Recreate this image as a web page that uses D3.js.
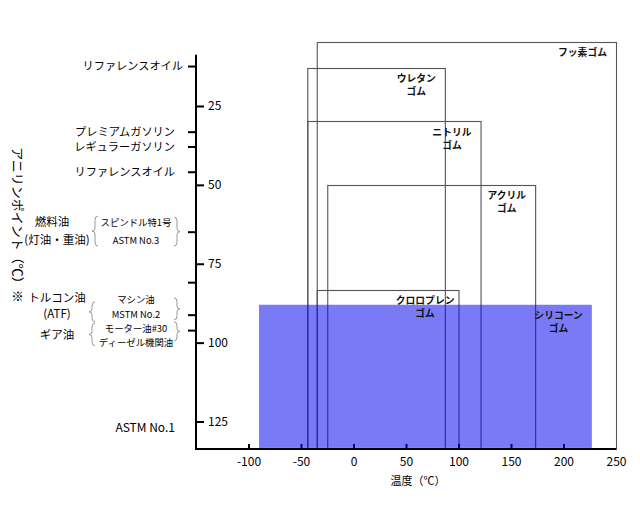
<!DOCTYPE html>
<html><head><meta charset="utf-8">
<script src="https://cdn.jsdelivr.net/npm/d3@7"></script>
<style>
html,body{margin:0;padding:0;background:#fff;}
svg{display:block;font-family:"Noto Sans CJK JP","Noto Sans",sans-serif;}
</style></head>
<body>
<svg id="c" width="640" height="526"></svg>
<script>
// ---- data ----
const rubberLine1 = ["フッ素ゴム","ウレタン","ニトリル","アクリル","クロロプレン","シリコーン"];
const rubberLine2 = ["","ゴム","ゴム","ゴム","ゴム","ゴム"];
const rubberTempMin = [-35,-44,-44,-25,-35,-90];
const rubberTempMax = [250,87,121,173,100,227];
const rubberAnilineMin = [4.6,12.9,29.8,50,83.3,88];
const highlighted = [false,false,false,false,false,true];

const xTickValues = [-100,-50,0,50,100,150,200,250];
const yTickValues = [25,50,75,100,125];

const oilNames = ["リファレンスオイル","プレミアムガソリン","レギュラーガソリン","リファレンスオイル","ASTM No.1"];
const oilAniline = [12.5,33.3,38,46,127];
const oilTicks = [12.5,33.3,38,46,65,81,91.3,96.2];

const groupNames = ["燃料油","(灯油・重油)","トルコン油","(ATF)","ギア油"];
const groupAniline = [61.8,67.5,85.8,90.9,97.6];
const subNames = ["スピンドル特1号","ASTM No.3","マシン油","MSTM No.2","モーター油#30","ディーゼル機関油"];
const subAniline = [62,67.7,86.3,91.0,95.6,99.9];
// braces: [from, to] in aniline units (left side, right side)
const braceLeft = [[59.9,69.4],[87.1,93.4],[93.8,101]];
const braceRight = [[60.2,69.4],[85.8,92.8],[93.4,99.5]];

const xDomain = [-150,250];
const yAxisExtent = [8.8,133.7];

// ---- scales ----
const svg = d3.select("#c");
const x = d3.scaleLinear().domain(xDomain).range([196,616]);
const y = d3.scaleLinear().domain([0,125]).range([27.1,421.5]);
const axisBottomY = y(yAxisExtent[1]);

// rubber outlines
const idx = d3.range(rubberLine1.length);
svg.append("g").selectAll("rect").data(idx.filter(i=>!highlighted[i])).join("rect")
  .attr("x", i=>x(rubberTempMin[i])+0.5)
  .attr("y", i=>Math.round(y(rubberAnilineMin[i]))+0.5)
  .attr("width", i=>x(rubberTempMax[i])-x(rubberTempMin[i]))
  .attr("height", i=>axisBottomY-Math.round(y(rubberAnilineMin[i])))
  .attr("fill","none").attr("stroke","#555").attr("stroke-width",1.1);

// axes
const yAxis = d3.axisRight(y).tickValues(yTickValues).tickSize(8).tickPadding(4);
const gy = svg.append("g").attr("transform","translate(196,0)").call(yAxis);
gy.select(".domain").remove();
gy.selectAll(".tick line").attr("stroke","#000").attr("stroke-width",2);
gy.selectAll(".tick text").attr("font-size",12).attr("fill","#000").attr("font-family","'Noto Sans CJK JP',sans-serif");

const xAxis = d3.axisBottom(x).tickValues(xTickValues).tickSize(-5).tickPadding(9).tickFormat(d3.format("d"));
const gx = svg.append("g").attr("transform",`translate(0,${axisBottomY})`).call(xAxis);
gx.select(".domain").remove();
gx.selectAll(".tick line").attr("stroke","#000").attr("stroke-width",2).filter(d=>d===250).remove();
gx.selectAll(".tick text").attr("font-size",12).attr("fill","#000").attr("font-family","'Noto Sans CJK JP',sans-serif")
  .text(d=>d<0? "-"+Math.abs(d) : d);

// left side ticks
svg.append("g").selectAll("line").data(oilTicks).join("line")
  .attr("x1",188).attr("x2",196).attr("y1",d=>y(d)).attr("y2",d=>y(d))
  .attr("stroke","#000").attr("stroke-width",2);

// highlighted rubber (semi transparent fill over outlines and ticks)
svg.append("g").selectAll("rect").data(idx.filter(i=>highlighted[i])).join("rect")
  .attr("x", i=>x(rubberTempMin[i]))
  .attr("y", i=>y(rubberAnilineMin[i]))
  .attr("width", i=>x(rubberTempMax[i])-x(rubberTempMin[i]))
  .attr("height", i=>axisBottomY-1-y(rubberAnilineMin[i]))
  .attr("fill","#0000f0").attr("fill-opacity",0.52);

// axis lines
svg.append("line").attr("x1",196).attr("x2",196).attr("y1",y(yAxisExtent[0])).attr("y2",axisBottomY+1)
  .attr("stroke","#000").attr("stroke-width",2);
svg.append("line").attr("x1",195).attr("x2",x(xDomain[1])).attr("y1",axisBottomY).attr("y2",axisBottomY)
  .attr("stroke","#000").attr("stroke-width",2);

// rubber labels (two separate text lines, block right-aligned inside each box)
const lbl = svg.append("g").attr("font-size",9.8).attr("font-weight","bold").attr("fill","#111");
idx.forEach(i=>{
  const top = y(rubberAnilineMin[i]);
  const t1 = lbl.append("text").attr("text-anchor","middle").attr("x",0).attr("y",top+14.5).text(rubberLine1[i]);
  const w = t1.node().getComputedTextLength();
  const cx = x(rubberTempMax[i]) - (i===4 ? 4 : 9) - w/2;
  t1.attr("x", cx);
  if (rubberLine2[i]) lbl.append("text").attr("text-anchor","middle").attr("x",cx).attr("y",top+27.5).text(rubberLine2[i]);
});

// oil labels
svg.append("g").selectAll("text").data(oilNames).join("text")
  .attr("x",(d,i)=> i===0 ? 183 : 175).attr("y",(d,i)=>y(oilAniline[i])).attr("dy","0.35em")
  .attr("text-anchor","end").attr("font-size",(d,i)=> i===4 ? 12 : 11.2).attr("fill","#000")
  .text(d=>d);

// group labels
svg.append("g").selectAll("text").data(groupNames).join("text")
  .attr("x",(d,i)=> i===0 ? 52 : 57).attr("y",(d,i)=>y(groupAniline[i])).attr("dy","0.35em")
  .attr("text-anchor","middle").attr("font-size",11.5).attr("fill","#000")
  .text(d=>d);
svg.append("g").selectAll("text").data(subNames).join("text")
  .attr("x",136).attr("y",(d,i)=>y(subAniline[i])).attr("dy","0.35em")
  .attr("text-anchor","middle").attr("font-size",9.4).attr("fill","#000")
  .text(d=>d);

// braces
function brace(xx, y1, y2, dir){
  const m=(y1+y2)/2, w=3*dir;
  return `M${xx+w},${y1} Q${xx},${y1} ${xx},${y1+4} L${xx},${m-3} Q${xx},${m} ${xx-w},${m} Q${xx},${m} ${xx},${m+3} L${xx},${y2-4} Q${xx},${y2} ${xx+w},${y2}`;
}
const bg = svg.append("g").attr("fill","none").attr("stroke","#999").attr("stroke-width",1);
braceLeft.forEach((b,i)=>bg.append("path").attr("d",brace(i===0?95:92,y(b[0]),y(b[1]),1)));
braceRight.forEach((b,i)=>bg.append("path").attr("d",brace(177,y(b[0]),y(b[1]),-1)));

// axis titles
svg.append("text").attr("transform","translate(13,225) rotate(90)")
  .attr("text-anchor","middle").attr("font-size",13).attr("fill","#000")
  .text("アニリンポイント（℃）※");
svg.append("text").attr("x",418).attr("y",481).attr("dy","0.35em")
  .attr("text-anchor","middle").attr("font-size",11).attr("fill","#000")
  .text("温度（℃）");
</script>
</body></html>
